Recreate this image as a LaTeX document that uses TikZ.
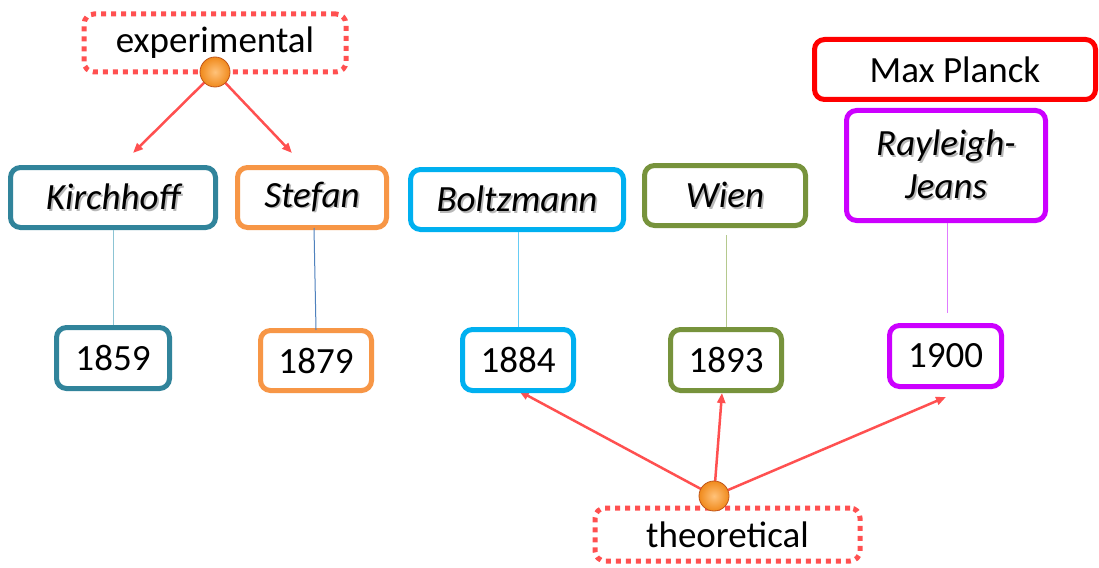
\documentclass[tikz,border=0pt]{standalone}
\usepackage{fontspec}
\setmainfont{Carlito}
\usetikzlibrary{arrows.meta,backgrounds,shadings}
\definecolor{cteal}{HTML}{31849B}
\definecolor{corange}{HTML}{F79646}
\definecolor{ccyan}{HTML}{00B0F0}
\definecolor{colive}{HTML}{77933C}
\definecolor{cpurple}{HTML}{CC00FF}
\definecolor{cred}{HTML}{FF0000}
\definecolor{carrow}{HTML}{FF5050}
\definecolor{lteal}{HTML}{8CC4D4}
\definecolor{lblue}{HTML}{4F81BD}
\definecolor{lcyan}{HTML}{66CCF5}
\definecolor{lolive}{HTML}{B5C98E}
\definecolor{lpurple}{HTML}{E07BFF}
\definecolor{ballin}{HTML}{FFC27A}
\definecolor{ballout}{HTML}{F08A1C}
\definecolor{ballrim}{HTML}{C0561A}
\newcommand{\shadtxt}[1]{\makebox[0pt][l]{\hspace{1.8pt}\raisebox{-1.8pt}{\color{black!28}#1}}#1}
\begin{document}
\begin{tikzpicture}[x=1pt,y=-1pt,
  box/.style={draw, line width=5pt, rounded corners=10pt, inner sep=0pt, fill=white,
    font=\fontsize{37}{42}\selectfont},
  namebox/.style={box, font=\fontsize{37}{43}\selectfont\itshape, align=center},
  dotbox/.style={draw=carrow, line width=5pt, rounded corners=10pt, inner sep=0pt,
    dash pattern=on 5pt off 5pt, font=\fontsize{37}{42}\selectfont},
  ballnode/.style={circle, minimum size=30pt, inner sep=0pt, draw=ballrim, line width=0.8pt,
    shading=radial, inner color=ballin, outer color=ballout},
  arr/.style={draw=carrow, line width=2.5pt, -{Triangle[length=10pt,width=8pt]}},
  link/.style={line width=1pt}
]
\useasboundingbox (0,0) rectangle (1099,567);

% name boxes
\node[namebox, draw=cteal, minimum width=205pt, minimum height=60pt] (kir) at (113,197.5) {\shadtxt{Kirchhoff}};
\node[namebox, draw=corange, minimum width=149pt, minimum height=60pt] (ste) at (312,197.5) {\shadtxt{Stefan}};
\node[namebox, draw=ccyan, minimum width=213pt, minimum height=60pt] (bol) at (517,199.5) {\shadtxt{Boltzmann}};
\node[namebox, draw=colive, minimum width=161pt, minimum height=60pt] (wie) at (725,195.5) {\shadtxt{Wien}};
\node[namebox, draw=cpurple, minimum width=199pt, minimum height=110pt] (ray) at (946,165.5) {\shadtxt{Rayleigh-}\\\shadtxt{Jeans}};
\node[box, draw=cred, minimum width=281pt, minimum height=60pt] (pla) at (955,69.5) {Max Planck};

% year boxes
\node[box, draw=cteal, minimum width=113pt, minimum height=61pt] (y59) at (113,358) {1859};
\node[box, draw=corange, minimum width=111pt, minimum height=60pt] (y79) at (316,360.5) {1879};
\node[box, draw=ccyan, minimum width=111pt, minimum height=61pt] (y84) at (518,360) {1884};
\node[box, draw=colive, minimum width=111pt, minimum height=61pt] (y93) at (726,360) {1893};
\node[box, draw=cpurple, minimum width=112pt, minimum height=61pt] (y00) at (945.5,356) {1900};

% vertical links
\coordinate (k1) at (113,230); \coordinate (k2) at (113,325);
\draw[link, lteal] (k1) -- (k2);
\coordinate (s1) at (314,228); \coordinate (s2) at (316,330);
\draw[link, lblue] (s1) -- (s2);
\coordinate (b1) at (518,232); \coordinate (b2) at (518,327);
\draw[link, lcyan] (b1) -- (b2);
\coordinate (w1) at (726,235); \coordinate (w2) at (726,327);
\draw[link, lolive] (w1) -- (w2);
\coordinate (r1) at (947,223); \coordinate (r2) at (947,313);
\draw[link, lpurple] (r1) -- (r2);

% category boxes
\node[dotbox, minimum width=262pt, minimum height=58pt] (exp) at (215,43) {experimental};
\node[dotbox, minimum width=265pt, minimum height=53pt] (the) at (727.5,534.5) {theoretical};

% balls
\node[ballnode] (eb) at (215,72) {};
\node[ballnode] (tb) at (714,496) {};

% arrows
\coordinate (ek) at (133,153);
\coordinate (es) at (292,153);
\coordinate (t84) at (519,391);
\coordinate (t93) at (722,393);
\coordinate (t00) at (946,397);
\begin{scope}[on background layer]
\fill[white] (0,0) rectangle (1099,567);
\draw[arr] (eb.center) -- (ek);
\draw[arr] (eb.center) -- (es);
\draw[arr] (tb.center) -- (t84);
\draw[arr] (tb.center) -- (t93);
\draw[arr] (tb.center) -- (t00);
\end{scope}
\end{tikzpicture}
\end{document}
